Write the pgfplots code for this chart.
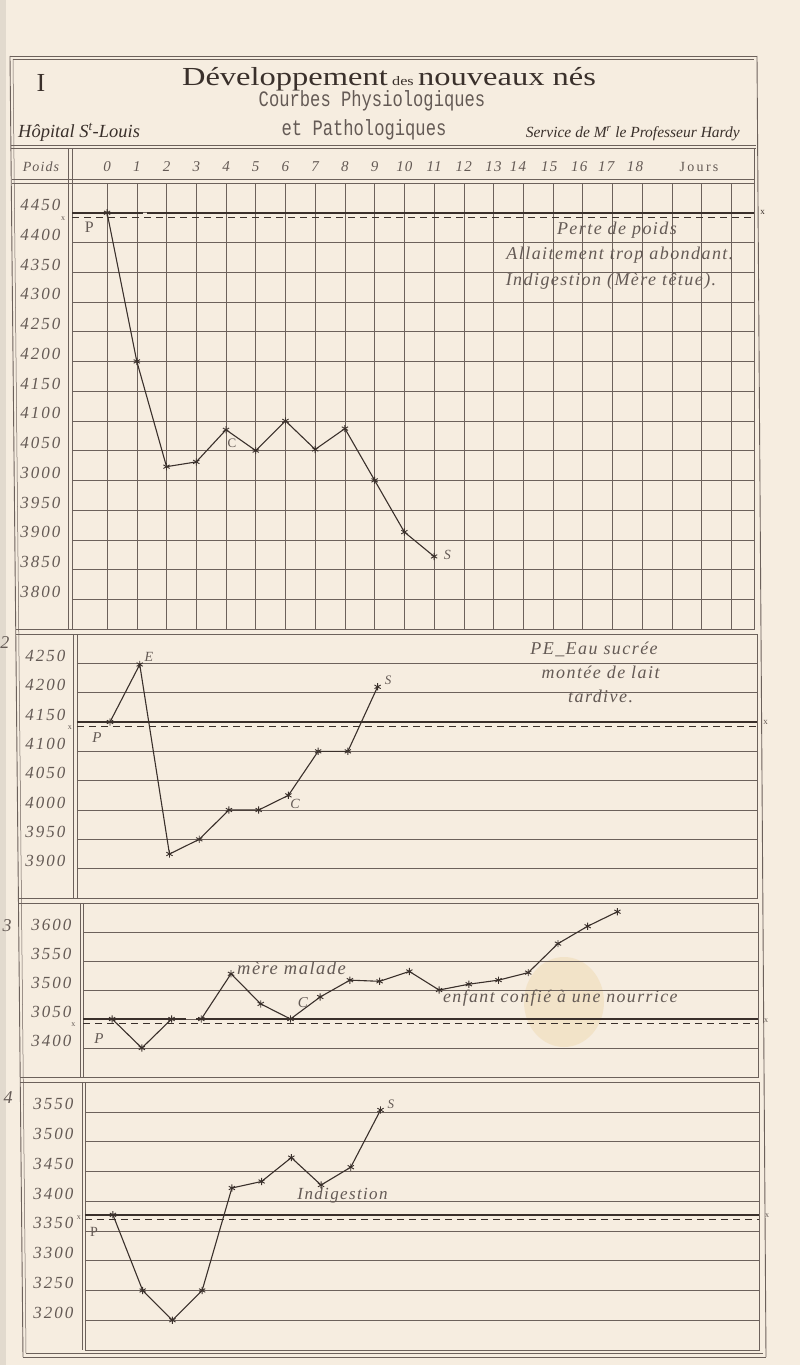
\documentclass[border=0pt]{standalone}
\usepackage{pgfplots}
\pgfplotsset{compat=1.18}
\usepackage{fontspec}
\setmainfont{Liberation Serif}
\newfontfamily\titlef[FakeStretch=1.25]{Liberation Serif}
\newfontfamily\subf[FakeStretch=0.78]{Liberation Mono}
\newfontfamily\hand[LetterSpace=8]{Liberation Serif Italic}
\newfontfamily\handn[LetterSpace=12]{Liberation Serif Italic}
\newfontfamily\hitf{Liberation Serif Italic}
\definecolor{bg}{RGB}{246,237,224}
\definecolor{ink}{RGB}{58,48,43}
\definecolor{gridc}{RGB}{108,97,91}
\definecolor{lab}{RGB}{100,90,85}
\definecolor{stain}{RGB}{240,218,178}
\pgfplotsset{
  panel/.style={
    scale only axis, clip=false,
    axis line style={draw=gridc, line width=0.8pt},
    minor xtick={0,1,...,21}, xminorgrids,
    ymajorgrids,
    major grid style={draw=gridc, line width=0.55pt},
    minor grid style={draw=gridc, line width=0.55pt},
    major tick length=0pt, minor tick length=0pt,
    tick style={draw=none},
    yticklabel style={font=\handn\fontsize{17}{17}\selectfont, text=lab, anchor=base east, xshift=-8pt, yshift=2pt},
  },
  dataline/.style={draw=ink, line width=1.1pt, mark=asterisk, mark size=3.6pt, mark options={line width=0.9pt, draw=ink}},
  refline/.style={draw=ink, line width=2.2pt, no marks},
  dashline/.style={draw=ink, line width=0.5pt, dash pattern=on 7pt off 5pt, no marks},
}
\tikzset{
  ann/.style={font=\hand\fontsize{18}{18}\selectfont, text=lab},
  lett/.style={font=\fontsize{16}{16}\selectfont, text=lab},
}
\begin{document}
\begin{tikzpicture}
\useasboundingbox (0,0) rectangle (800pt,-1365pt);
\fill[bg] (0,0) rectangle (800pt,-1365pt);
\fill[bg!92!black] (0,0) rectangle (6pt,-1365pt);
\fill[stain, opacity=0.5] (564pt,-1002pt) ellipse (40pt and 45pt);

% ---------- frame ----------
\begin{scope}[draw=gridc]
\draw[line width=0.9pt] (10pt,-56pt) -- (757pt,-56pt);
\draw[line width=0.5pt] (13pt,-59pt) -- (754pt,-59pt);
\draw[line width=0.9pt] (10pt,-56pt) -- (23pt,-1357pt);
\draw[line width=0.5pt] (13pt,-59pt) -- (26pt,-1353pt);
\draw[line width=0.9pt] (757pt,-56pt) -- (766pt,-1357pt);
\draw[line width=0.9pt] (23pt,-1357pt) -- (766pt,-1357pt);
\draw[line width=0.5pt] (26pt,-1353pt) -- (763pt,-1353pt);
\draw[line width=0.9pt] (11pt,-145pt) -- (756pt,-145pt);
\draw[line width=0.5pt] (11pt,-148pt) -- (756pt,-148pt);
\draw[line width=0.9pt] (12pt,-179pt) -- (754pt,-179pt);
\draw[line width=0.8pt] (12pt,-183pt) -- (72pt,-183pt);
\draw[line width=0.6pt] (68pt,-148pt) -- (68pt,-629pt);
\draw[line width=0.6pt] (72pt,-148pt) -- (72pt,-183pt);
\draw[line width=0.6pt] (754pt,-148pt) -- (754pt,-183pt);
% label column separators
\draw[line width=0.8pt] (16pt,-629pt) -- (72pt,-629pt);
\draw[line width=0.8pt] (16pt,-634pt) -- (77pt,-634pt);
\draw[line width=0.6pt] (73pt,-634pt) -- (73pt,-898pt);
\draw[line width=0.8pt] (18pt,-898pt) -- (77pt,-898pt);
\draw[line width=0.8pt] (18pt,-903pt) -- (83pt,-903pt);
\draw[line width=0.6pt] (80pt,-903pt) -- (80pt,-1077pt);
\draw[line width=0.8pt] (20pt,-1077pt) -- (83pt,-1077pt);
\draw[line width=0.8pt] (20pt,-1082pt) -- (85pt,-1082pt);
\draw[line width=0.6pt] (82pt,-1082pt) -- (82pt,-1350pt);
\end{scope}

% ---------- header ----------
\node[anchor=base, text=ink, font=\fontsize{26}{26}\selectfont] at (41pt,-91pt) {I};
\node[anchor=base, text=ink, font=\titlef\fontsize{26}{26}\selectfont] at (389pt,-85pt)
  {Développement\,{\fontsize{13}{13}\selectfont des}\,nouveaux nés};
\node[anchor=base, text=lab, font=\subf\fontsize{22}{22}\selectfont] at (372pt,-106pt) {Courbes Physiologiques};
\node[anchor=base, text=lab, font=\subf\fontsize{22}{22}\selectfont] at (364pt,-135pt) {et Pathologiques};
\node[anchor=base west, inner sep=0pt, text=ink, font=\hitf\fontsize{18.5}{18.5}\selectfont] at (18pt,-137pt) {Hôpital S\textsuperscript{t}-Louis};
\node[anchor=base east, inner sep=0pt, text=ink, font=\hitf\fontsize{15.5}{15.5}\selectfont] at (740pt,-137pt) {Service de M\textsuperscript{r} le Professeur Hardy};
\node[anchor=base, text=lab, font=\hand\fontsize{14}{14}\selectfont] at (41pt,-171pt) {Poids};
\node[anchor=base, text=lab, font=\fontsize{14}{14}\selectfont] at (699pt,-171pt) {J\,o\,u\,r\,s};
% panel numbers
\node[anchor=base, text=lab, font=\hitf\fontsize{18}{18}\selectfont] at (5pt,-648pt) {2};
\node[anchor=base, text=lab, font=\hitf\fontsize{18}{18}\selectfont] at (7pt,-931pt) {3};
\node[anchor=base, text=lab, font=\hitf\fontsize{18}{18}\selectfont] at (8pt,-1103pt) {4};

% ---------- panel 1 ----------
\begin{axis}[panel, at={(72pt,-183pt)}, anchor=north west, width=682pt, height=446pt,
  xmin=-1.18, xmax=21.76, ymin=3750, ymax=4500,
  xtick={0,1,2,3,4,5,6,7,8,9,10,11,12,13,13.82,14.87,15.88,16.79,17.76},
  xticklabels={0,1,2,3,4,5,6,7,8,9,10,11,12,13,14,15,16,17,18},
  xticklabel pos=upper,
  xticklabel style={font=\hand\fontsize{15}{15}\selectfont, text=lab, anchor=base, yshift=12pt},
  ytick={3800,3850,...,4450},
  yticklabels={3800,3850,3900,3950,3000,4050,4100,4150,4200,4250,4300,4350,4400,4450}]
\addplot[refline] coordinates {(-1.18,4450) (1.2,4450)};
\addplot[refline] coordinates {(1.35,4450) (21.76,4450)};
\addplot[dashline] coordinates {(-1.18,4443) (21.76,4443)};
\addplot[dataline] coordinates {(0,4450)(1,4200)(2,4023)(3,4031)(4,4085)(5,4050)(6,4100)(7,4052)(8,4087)(9,4000)(10,3913)(11,3872)};
\node[lett] at (axis cs:-0.6,4425) {P};
\node[lett, font=\fontsize{13}{13}\selectfont] at (axis cs:4.2,4063) {C};
\node[lett, font=\hitf\fontsize{14}{14}\selectfont] at (axis cs:11.45,3874) {S};
\node[ann] at (axis cs:17.15,4421) {Perte de poids};
\node[ann] at (axis cs:17.25,4379) {Allaitement trop abondant.};
\node[ann] at (axis cs:16.95,4335) {Indigestion (Mère têtue).};
\node[text=lab, font=\fontsize{8}{8}\selectfont] at (axis cs:-1.48,4440) {x};
\node[text=ink, font=\fontsize{9}{9}\selectfont] at (axis cs:22.05,4450) {x};
\end{axis}

% ---------- panel 2 ----------
\begin{axis}[panel, at={(77pt,-634pt)}, anchor=north west, width=680pt, height=264pt,
  xmin=-1.11, xmax=21.76, ymin=3850, ymax=4300, xtick=\empty,
  ytick={3900,3950,...,4250},
  yticklabels={3900,3950,4000,4050,4100,4150,4200,4250}]
\addplot[refline] coordinates {(-1.11,4150) (21.76,4150)};
\addplot[dashline] coordinates {(-1.11,4143) (21.76,4143)};
\addplot[dataline] coordinates {(0,4150)(1,4248)(2,3925)(3,3950)(4,4000)(5,4000)(6,4025)(7,4100)(8,4100)(9,4210)};
\node[lett, font=\hitf\fontsize{14}{14}\selectfont] at (axis cs:1.31,4261) {E};
\node[lett, font=\hitf\fontsize{15}{15}\selectfont] at (axis cs:-0.44,4124) {P};
\node[lett, font=\hitf\fontsize{14}{14}\selectfont] at (axis cs:6.22,4010) {C};
\node[lett, font=\hitf\fontsize{13}{13}\selectfont] at (axis cs:9.35,4222) {S};
\node[ann] at (axis cs:16.28,4273) {PE\_Eau sucrée};
\node[ann] at (axis cs:16.5,4234) {montée de lait};
\node[ann] at (axis cs:16.5,4193) {tardive.};
\node[text=lab, font=\fontsize{8}{8}\selectfont] at (axis cs:-1.35,4140) {x};
\node[text=lab, font=\fontsize{9}{9}\selectfont] at (axis cs:22.05,4150) {x};
\end{axis}

% ---------- panel 3 ----------
\begin{axis}[panel, at={(83pt,-903pt)}, anchor=north west, width=675pt, height=174pt,
  xmin=-0.98, xmax=21.73, ymin=3350, ymax=3650, xtick=\empty,
  ytick={3400,3450,...,3600},
  yticklabels={3400,3050,3500,3550,3600}]
\addplot[refline] coordinates {(-0.98,3450) (2.49,3450)};
\addplot[refline] coordinates {(2.83,3450) (21.73,3450)};
\addplot[dashline] coordinates {(-0.98,3443) (21.73,3443)};
\addplot[dataline] coordinates {(0,3450)(1,3400)(2,3450)};
\addplot[dataline] coordinates {(3,3450)(4,3528)(5,3476)(6,3450)(7,3488)(8,3517)(9,3515)(10,3532)(11,3500)(12,3510)(13,3517)(14,3530)(15,3580)(16,3610)(17,3635)};
\node[lett, font=\hitf\fontsize{15}{15}\selectfont] at (axis cs:-0.44,3417) {P};
\node[ann, anchor=west, inner sep=0pt, font=\hand\fontsize{18.5}{18.5}\selectfont] at (axis cs:4.2,3538) {mère malade};
\node[lett, font=\hitf\fontsize{15}{15}\selectfont] at (axis cs:6.42,3479) {C};
\node[ann, anchor=west, inner sep=0pt, font=\hand\fontsize{17.8}{17.8}\selectfont] at (axis cs:11.13,3486) {enfant confié à une nourrice};
\node[text=lab, font=\fontsize{8}{8}\selectfont] at (axis cs:-1.3,3440) {x};
\node[text=lab, font=\fontsize{8}{8}\selectfont] at (axis cs:22.0,3448) {x};
\end{axis}

% ---------- panel 4 ----------
\begin{axis}[panel, at={(85pt,-1082pt)}, anchor=north west, width=674pt, height=268pt,
  xmin=-0.94, xmax=21.73, ymin=3150, ymax=3600, xtick=\empty,
  ytick={3200,3250,...,3550},
  yticklabels={3200,3250,3300,3350,3400,3450,3500,3550}]
\addplot[refline] coordinates {(-0.94,3377) (21.73,3377)};
\addplot[dashline] coordinates {(-0.94,3370) (21.73,3370)};
\addplot[dataline] coordinates {(0,3377)(1,3250)(2,3200)(3,3250)(4,3422)(5,3433)(6,3473)(7,3427)(8,3457)(9,3553)};
\node[lett, font=\fontsize{14}{14}\selectfont] at (axis cs:-0.64,3348) {P};
\node[ann, anchor=west, inner sep=0pt, font=\hand\fontsize{17}{17}\selectfont] at (axis cs:6.2,3409) {Indigestion};
\node[lett, font=\hitf\fontsize{13}{13}\selectfont] at (axis cs:9.35,3563) {S};
\node[text=lab, font=\fontsize{8}{8}\selectfont] at (axis cs:-1.15,3372) {x};
\node[text=lab, font=\fontsize{8}{8}\selectfont] at (axis cs:22.0,3375) {x};
\end{axis}
\end{tikzpicture}
\end{document}
